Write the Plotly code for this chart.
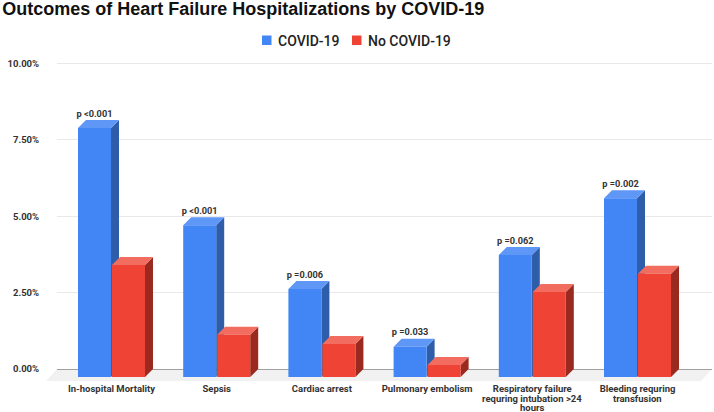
import plotly.graph_objects as go

# Values (percent)
categories = ['In-hospital Mortality', 'Sepsis', 'Cardiac arrest', 'Pulmonary embolism',
              'Respiratory failure<br>requring intubation >24<br>hours', 'Bleeding requring<br>transfusion']
covid = [8.15, 4.97, 2.88, 0.99, 3.99, 5.85]
no_covid = [3.67, 1.38, 1.08, 0.39, 2.78, 3.38]
p_labels = ['p <0.001', 'p <0.001', 'p =0.006', 'p =0.033', 'p =0.062', 'p =0.002']
y_ticks = [0, 2.5, 5, 7.5, 10]
y_tick_labels = ['0.00%', '2.50%', '5.00%', '7.50%', '10.00%']

# Fake 3D look: the front faces sit lower-left of the axis plane
PX_X = 105.2   # pixels per category
PX_Y = 30.6    # pixels per percent
DX = 8 / PX_X
DY = 8 / PX_Y
BAR_W = 33 / PX_X
GAP = 1 / PX_X
LABEL_FONT = dict(family='Roboto', size=9.5, color='#333333', weight='bold')


def faces(xs, values):
    # top and side parallelograms of each bar, in data coords
    top_x, top_y, side_x, side_y = [], [], [], []
    for x, v in zip(xs, values):
        x0, x1 = x - BAR_W / 2, x + BAR_W / 2
        t = v - DY
        top_x += [x0, x1, x1 + DX, x0 + DX, x0, None]
        top_y += [t, t, t + DY, t + DY, t, None]
        side_x += [x1, x1 + DX, x1 + DX, x1, x1, None]
        side_y += [-DY, 0, t + DY, t, -DY, None]
    return top_x, top_y, side_x, side_y


def add_series(fig, name, values, xs, front, top, side, z):
    top_x, top_y, side_x, side_y = faces(xs, values)
    for fx, fy, col in [(side_x, side_y, side), (top_x, top_y, top)]:
        fig.add_trace(go.Scatter(x=fx, y=fy, mode='lines', fill='toself', fillcolor=col,
                                 line=dict(width=0), hoverinfo='skip', showlegend=False, zorder=z))
    fig.add_trace(go.Bar(x=xs, y=values, base=-DY, width=BAR_W, name=name, showlegend=False,
                         marker=dict(color=front, line=dict(width=0)), zorder=z + 1))


fig = go.Figure()
idx = list(range(len(categories)))
blue_x = [i - BAR_W / 2 - GAP / 2 for i in idx]
red_x = [i + BAR_W / 2 + GAP / 2 for i in idx]

add_series(fig, 'COVID-19', covid, blue_x, '#4285f4', '#5f97f6', '#2e5da9', 1)
add_series(fig, 'No COVID-19', no_covid, red_x, '#ef4335', '#f36c60', '#9a291f', 3)

# p-value labels above the blue bars
fig.add_trace(go.Scatter(x=blue_x, y=[v + 1 / PX_Y for v in covid], mode='text', text=p_labels,
                         textposition='top center', textfont=dict(LABEL_FONT, size=9.2),
                         hoverinfo='skip', showlegend=False, zorder=6))

# Grey floor under the bars
fig.add_shape(type='path', xref='paper', yref='paper', layer='below', line_width=0,
              fillcolor='#f1f1f1',
              path='M -0.0168 0 L 0 0.0365 L 1 0.0365 L 0.983 0 Z')

# Legend drawn by hand so the swatches sit where the original has them
for name, col, sx, tx in [('COVID-19', '#4285f4', 262, 277), ('No COVID-19', '#ef4335', 352, 367)]:
    fig.add_shape(type='rect', xref='paper', yref='paper', line_width=0, fillcolor=col,
                  x0=(sx - 57) / 655, x1=(sx + 9.5 - 57) / 655, y0=1 + 8 / 328, y1=1 + 17.5 / 328)
    fig.add_annotation(text=name, xref='paper', yref='paper', showarrow=False, xanchor='left', yanchor='middle',
                       x=(tx - 57) / 655, y=1 + 12.5 / 328, xshift=-1,
                       font=dict(family='Roboto', size=14, color='#222222', weight=500))

# Plotly's <br> spacing is too loose here, so wrapped category lines are placed one by one
first_lines = [c.split('<br>')[0] for c in categories]
for i, c in enumerate(categories):
    for n, line in enumerate(c.split('<br>')[1:], start=1):
        fig.add_annotation(text=line, x=i, xref='x', y=0, yref='paper', yanchor='middle', showarrow=False,
                           yshift=-8 - 9 * n, font=LABEL_FONT)

fig.update_layout(
    width=714, height=412,
    barmode='overlay',
    showlegend=False,
    paper_bgcolor='white', plot_bgcolor='rgba(0,0,0,0)',
    margin=dict(l=57, r=2, t=53, b=31),
    title=dict(text='<b>Outcomes of Heart Failure Hospitalizations by COVID-19</b>',
               font=dict(family='Liberation Sans', size=18, color='#111111'),
               xref='container', yref='container', x=0.003, y=0.978, xanchor='left', yanchor='middle'),
    xaxis=dict(range=[-0.518, 5.708], tickmode='array', tickvals=idx, ticktext=first_lines,
               showgrid=False, zeroline=False, showline=False, ticks='', automargin=False,
               tickfont=LABEL_FONT),
    yaxis=dict(range=[-12 / PX_Y, 10 + 10.5 / PX_Y], tickmode='array', tickvals=y_ticks, ticktext=y_tick_labels,
               showgrid=True, gridcolor='#e9e9e9', gridwidth=1.3, automargin=False,
               zeroline=True, zerolinecolor='#a0a0a0', zerolinewidth=1.3, showline=False,
               ticks='outside', ticklen=15, tickcolor='rgba(0,0,0,0)',
               tickfont=LABEL_FONT),
)

fig.write_html('out.html', config=dict(displayModeBar=False), post_script="document.body.style.margin='0';")
